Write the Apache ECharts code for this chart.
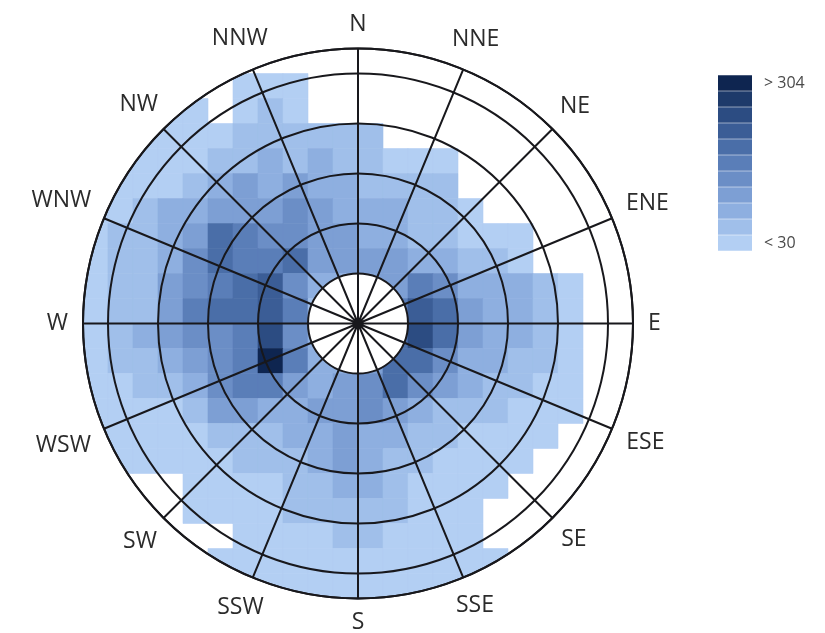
<!DOCTYPE html>
<html>
<head>
<meta charset="utf-8">
<script src="https://cdn.jsdelivr.net/npm/echarts@6/dist/echarts.min.js"></script>
<style>
html,body{margin:0;padding:0;background:#ffffff;}
#chart{width:825px;height:633px;}
</style>
</head>
<body>
<div id="chart"></div>
<script>
// ---- labels ----
const directions = ['N','NNE','NE','ENE','E','ESE','SE','SSE','S','SSW','SW','WSW','W','WNW','NW','NNW'];
const legendLowText = '< 30';
const legendHighText = '> 304';

// ---- colour bins (counts) ----
const binEdges = [30, 60.4, 90.9, 121.3, 151.8, 182.2, 212.7, 243.1, 273.6, 304];

// ---- raster cells: rows from north (top) to south, columns from west to east ----
// counts read from the picture; null = no observations
const n = null;
const rows = [
  [n,n,n,n,n,n,n,n,n,n,n,n,n,n,n,n,n,n,n,n,n,n],
  [n,n,n,n,n,n,15,15,15,n,n,n,n,n,n,n,n,n,n,n,n,n],
  [n,n,n,15,15,n,15,45,15,n,n,n,n,n,n,n,n,n,n,n,n,n],
  [n,n,15,15,15,15,45,45,45,45,45,45,n,n,n,n,n,n,n,n,n,n],
  [n,15,15,15,15,45,45,76,45,76,45,45,15,15,15,n,n,n,n,n,n,n],
  [n,15,15,15,45,76,106,76,106,76,76,45,45,45,45,n,n,n,n,n,n,n],
  [15,15,45,76,76,106,106,106,137,106,76,76,76,45,45,15,n,n,n,n,n,n],
  [15,45,45,76,106,198,167,137,137,106,106,76,76,45,45,15,15,15,n,n,n,n],
  [15,45,45,76,137,198,167,167,198,106,106,106,106,76,76,45,45,15,n,n,n,n],
  [15,45,45,106,137,167,198,228,137,76,76,106,106,167,137,76,76,76,45,15,n,n],
  [15,45,45,106,167,198,198,228,167,45,45,45,167,228,198,106,76,76,45,15,n,n],
  [15,45,76,106,137,137,167,259,137,76,76,76,198,259,198,106,76,76,45,15,n,n],
  [15,45,45,76,106,137,167,320,167,76,76,106,198,198,137,76,76,45,45,15,n,n],
  [15,15,45,45,76,137,167,167,106,76,106,137,198,137,106,76,45,45,15,15,n,n],
  [15,15,15,15,45,106,106,76,76,106,106,137,106,76,45,45,45,15,15,15,n,n],
  [15,15,15,15,15,45,45,45,76,76,106,76,76,45,45,15,15,15,15,n,n,n],
  [n,15,15,15,15,15,45,45,45,76,106,76,45,45,15,15,15,15,n,n,n,n],
  [n,n,n,n,15,15,15,15,45,45,76,76,45,15,15,15,15,n,n,n,n,n],
  [n,n,n,n,15,15,15,15,45,45,45,45,45,15,15,15,n,n,n,n,n,n],
  [n,n,n,n,n,n,15,15,15,15,45,45,15,15,15,15,n,n,n,n,n,n],
  [n,n,n,n,n,15,15,15,15,15,15,15,15,15,15,15,15,n,n,n,n,n],
  [n,n,n,n,n,n,15,15,15,15,15,15,15,15,15,15,n,n,n,n,n,n]
];

// ---- geometry of the raster in radial units ----
const cellSize = 0.5;
const rasterHalf = 5.5;
const outerRadius = 5.5;
const calmRadius = 1;

const colors = ['#b3cff3','#a0bfea','#8eafe0','#7d9fd4','#6b8ec6','#5a7eb8','#4a6ea8','#3b5d96','#2c4c82','#1e3a6a','#0e2550'];
const labelFont = '23px "Open Sans"';
const labelGap = 290; // px from centre to the near edge of a label box

const pieces = [];
pieces.push({ lt: binEdges[0], label: legendLowText, color: colors[0] });
for (let i = 0; i < binEdges.length - 1; i++) {
  pieces.push({ gte: binEdges[i], lt: binEdges[i + 1], label: ' ', color: colors[i + 1] });
}
pieces.push({ gte: binEdges[binEdges.length - 1], label: legendHighText, color: colors[colors.length - 1] });

const cellData = [];
rows.forEach((row, j) => {
  row.forEach((v, k) => {
    if (v === null) return;
    const x = -rasterHalf + cellSize * (k + 0.5);
    const y = rasterHalf - cellSize * (j + 0.5);
    cellData.push([x, y, v]);
  });
});
const labelData = directions.map((d, i) => [i * 360 / directions.length, d]);

// circle polygon for clipping (data units, CCW)
const clipPoly = [];
for (let i = 0; i < 240; i++) {
  const t = (i / 240) * Math.PI * 2;
  clipPoly.push([outerRadius * Math.cos(t), outerRadius * Math.sin(t)]);
}
function clipConvex(poly, cp) {
  let out = poly;
  for (let i = 0; i < cp.length && out.length; i++) {
    const a = cp[i], b = cp[(i + 1) % cp.length];
    const ex = b[0] - a[0], ey = b[1] - a[1];
    const inside = p => ex * (p[1] - a[1]) - ey * (p[0] - a[0]) >= 0;
    const inter = (p, q) => {
      const dx = q[0] - p[0], dy = q[1] - p[1];
      const t = (ex * (a[1] - p[1]) - ey * (a[0] - p[0])) / (ex * dy - ey * dx);
      return [p[0] + t * dx, p[1] + t * dy];
    };
    const inp = out; out = [];
    for (let j = 0; j < inp.length; j++) {
      const p = inp[j], q = inp[(j + 1) % inp.length];
      const pin = inside(p), qin = inside(q);
      if (pin) { out.push(p); if (!qin) out.push(inter(p, q)); }
      else if (qin) out.push(inter(p, q));
    }
  }
  return out;
}
function toPolar(x, y) {
  const r = Math.hypot(x, y);
  let a = Math.atan2(x, y) * 180 / Math.PI;
  if (a < 0) a += 360;
  return [r, a];
}
const measureCtx = document.createElement('canvas').getContext('2d');
measureCtx.font = labelFont;

const lineColor = '#18181c';
const chart = echarts.init(document.getElementById('chart'), null, { renderer: 'canvas' });
chart.setOption({
  backgroundColor: '#ffffff',
  animation: false,
  textStyle: { fontFamily: 'Open Sans' },
  polar: { center: [358, 323.5], radius: 275 },
  angleAxis: {
    type: 'value', min: 0, max: 360, interval: 22.5,
    startAngle: 90, clockwise: true, z: 10,
    axisLine: { show: true, lineStyle: { color: lineColor, width: 2 } },
    axisTick: { show: false },
    axisLabel: { show: false },
    splitLine: { show: true, lineStyle: { color: lineColor, width: 2 } }
  },
  radiusAxis: {
    type: 'value', min: 0, max: outerRadius, interval: 1, z: 10,
    axisLine: { show: false }, axisTick: { show: false }, axisLabel: { show: false },
    splitLine: { show: true, lineStyle: { color: lineColor, width: 2 } }
  },
  visualMap: {
    type: 'piecewise', seriesIndex: 0, dimension: 2,
    orient: 'vertical', left: 703, top: 60, align: 'left',
    itemWidth: 34, itemHeight: 15.7, itemGap: 0, itemSymbol: 'rect',
    showLabel: true, selectedMode: false,
    textGap: 12,
    textStyle: { fontSize: 16, color: '#4a4a4a', fontFamily: 'Open Sans' },
    pieces: pieces
  },
  series: [
    {
      type: 'custom', coordinateSystem: 'polar', z: 1,
      data: cellData,
      renderItem: function (params, api) {
        const cx = api.value(0), cy = api.value(1), h = cellSize / 2;
        let poly = [[cx - h, cy - h], [cx + h, cy - h], [cx + h, cy + h], [cx - h, cy + h]];
        poly = clipConvex(poly, clipPoly);
        if (poly.length < 3) return null;
        const pts = poly.map(p => api.coord(toPolar(p[0], p[1])));
        const c = api.visual('color');
        return { type: 'polygon', shape: { points: pts }, style: { fill: c, stroke: c, lineWidth: 0.6 } };
      }
    },
    {
      type: 'custom', coordinateSystem: 'polar', z: 2,
      data: [[calmRadius]],
      renderItem: function (params, api) {
        const c0 = api.coord([0, 0]);
        const c1 = api.coord([api.value(0), 90]);
        const r = Math.hypot(c1[0] - c0[0], c1[1] - c0[1]);
        return { type: 'circle', shape: { cx: c0[0], cy: c0[1], r: r }, style: { fill: '#ffffff' } };
      }
    },
    {
      type: 'custom', coordinateSystem: 'polar', z: 3, silent: true,
      data: labelData,
      dimensions: ['angle', { name: 'label', type: 'ordinal' }],
      renderItem: function (params, api) {
        const ang = api.value(0);
        const text = labelData[params.dataIndex][1];
        const c0 = api.coord([0, 0]);
        const c1 = api.coord([1, 90]);
        const pxPerUnit = Math.hypot(c1[0] - c0[0], c1[1] - c0[1]);
        const halfW = measureCtx.measureText(text).width / 2;
        const halfH = 9;
        const rad = ang * Math.PI / 180;
        const support = Math.abs(halfW * Math.sin(rad)) + Math.abs(halfH * Math.cos(rad));
        const p = api.coord([(labelGap + support) / pxPerUnit, ang]);
        return {
          type: 'text', x: p[0], y: p[1],
          style: { text: text, font: labelFont, fill: '#2b2b2b', align: 'center', verticalAlign: 'middle' }
        };
      }
    }
  ]
});
</script>
</body>
</html>
